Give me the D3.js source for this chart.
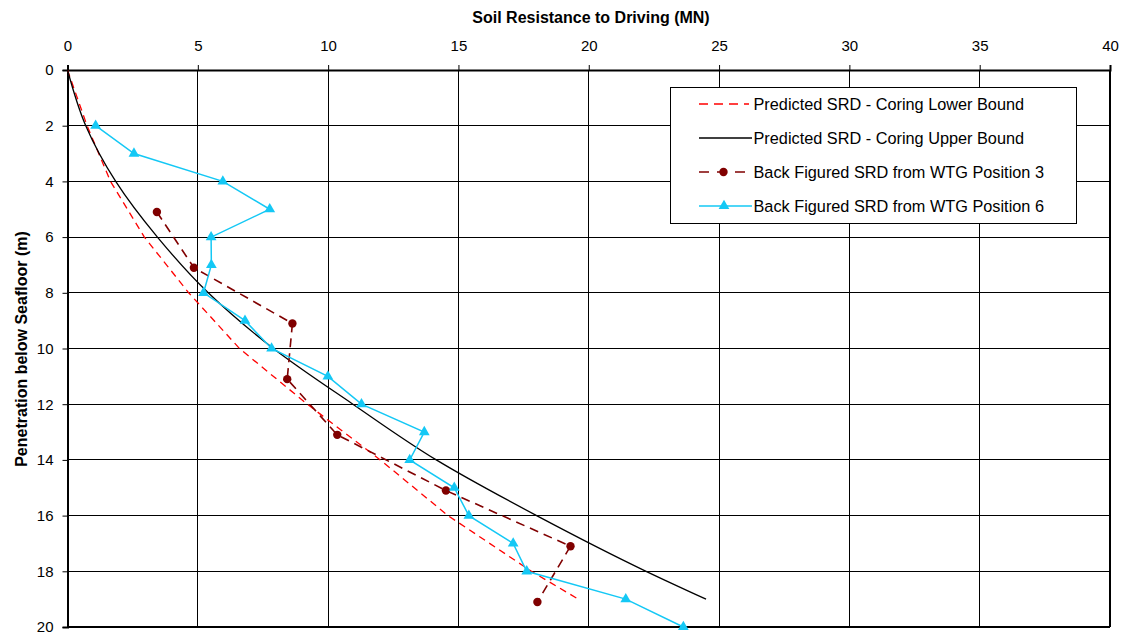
<!DOCTYPE html>
<html>
<head>
<meta charset="utf-8">
<script src="https://cdn.jsdelivr.net/npm/d3@7/dist/d3.min.js"></script>
<style>
  html, body { margin: 0; padding: 0; background: #fff; }
  svg { display: block; font-family: "Liberation Sans", Arial, sans-serif; }
</style>
</head>
<body>
<svg id="chart" width="1127" height="635"></svg>
<script>
// Predicted soil resistance to driving (MN) vs penetration depth (m)
const lowerDepth = [0, 2, 4, 6, 8, 10, 12, 14, 16, 18, 19];
const lowerSRD   = [0, 0.75, 1.65, 2.95, 4.65, 6.6, 9.2, 12.0, 14.6, 17.8, 19.6];

const upperDepth = [0, 2, 4, 6, 8, 10, 12, 14, 16, 18, 19];
const upperSRD   = [0, 0.7, 1.85, 3.45, 5.4, 7.9, 10.95, 14.15, 18.0, 22.2, 24.5];

// Back-figured SRD from pile driving records
const wtg3Depth = [5.1, 7.1, 9.1, 11.1, 13.1, 15.1, 17.1, 19.1];
const wtg3SRD   = [3.43, 4.85, 8.63, 8.43, 10.35, 14.52, 19.3, 18.03];

const wtg6Depth = [2, 3, 4, 5, 6, 7, 8, 9, 10, 11, 12, 13, 14, 15, 16, 17, 18, 19, 20];
const wtg6SRD   = [1.08, 2.55, 5.96, 7.76, 5.51, 5.52, 5.22, 6.81, 7.83, 9.99, 11.28, 13.69, 13.13, 14.84, 15.4, 17.1, 17.62, 21.42, 23.63];

const xTicks = [0, 5, 10, 15, 20, 25, 30, 35, 40];
const yTicks = [0, 2, 4, 6, 8, 10, 12, 14, 16, 18, 20];

const seriesNames = [
  "Predicted SRD - Coring Lower Bound",
  "Predicted SRD - Coring Upper Bound",
  "Back Figured SRD from WTG Position 3",
  "Back Figured SRD from WTG Position 6"
];

const svg = d3.select("#chart");
const plotL = 67.5, plotR = 1110, plotT = 70, plotB = 627;

const x = d3.scaleLinear().domain([0, 40]).range([plotL, plotR]);
const y = d3.scaleLinear().domain([0, 20]).range([plotT, plotB]);

const toPts = (xs, ys) => xs.map((v, i) => [v, ys[i]]);
const line = d3.line().x(d => x(d[0])).y(d => y(d[1]));

// grid
const grid = svg.append("g");
grid.selectAll("line.v").data(xTicks).join("line")
  .attr("x1", d => x(d)).attr("x2", d => x(d))
  .attr("y1", plotT).attr("y2", plotB)
  .attr("stroke", "#000").attr("stroke-width", 1)
  .attr("shape-rendering", "crispEdges");
grid.selectAll("line.h").data(yTicks).join("line")
  .attr("x1", plotL).attr("x2", plotR)
  .attr("y1", d => y(d)).attr("y2", d => y(d))
  .attr("stroke", "#000").attr("stroke-width", 1)
  .attr("shape-rendering", "crispEdges");

// axes
const xAxis = d3.axisTop(x).tickValues(xTicks).tickSize(5).tickPadding(14);
const gx = svg.append("g").attr("transform", `translate(0,${plotT})`).call(xAxis);
gx.select(".domain").attr("stroke-width", 2);
gx.selectAll("text").attr("font-size", 15).attr("font-family", "Liberation Sans, Arial, sans-serif").attr("fill", "#000");

const yAxis = d3.axisLeft(y).tickValues(yTicks).tickSize(5).tickPadding(9);
const gy = svg.append("g").attr("transform", `translate(${plotL},0)`).call(yAxis);
gy.select(".domain").attr("stroke-width", 2);
gy.selectAll("text").attr("font-size", 15).attr("font-family", "Liberation Sans, Arial, sans-serif").attr("fill", "#000");

// bottom and right frame
svg.append("line").attr("x1", plotL).attr("x2", plotR).attr("y1", plotB).attr("y2", plotB)
  .attr("stroke", "#000").attr("stroke-width", 2);
svg.append("line").attr("x1", plotR).attr("x2", plotR).attr("y1", plotT).attr("y2", plotB)
  .attr("stroke", "#000").attr("stroke-width", 2);

// titles
svg.append("text").attr("x", 591).attr("y", 23)
  .attr("text-anchor", "middle").attr("font-weight", "bold").attr("font-size", 16)
  .text("Soil Resistance to Driving (MN)");
svg.append("text")
  .attr("transform", `translate(27,349) rotate(-90)`)
  .attr("text-anchor", "middle").attr("font-weight", "bold").attr("font-size", 16)
  .text("Penetration below Seafloor  (m)");

// series
const plot = svg.append("g");
plot.append("path").datum(toPts(lowerSRD, lowerDepth))
  .attr("d", line).attr("fill", "none")
  .attr("stroke", "#ff0000").attr("stroke-width", 1.3).attr("stroke-dasharray", "7,5");
plot.append("path").datum(toPts(upperSRD, upperDepth))
  .attr("d", line.curve(d3.curveMonotoneY)).attr("fill", "none")
  .attr("stroke", "#000").attr("stroke-width", 1.3);
line.curve(d3.curveLinear);

const w3 = toPts(wtg3SRD, wtg3Depth);
plot.append("path").datum(w3)
  .attr("d", line).attr("fill", "none")
  .attr("stroke", "#800000").attr("stroke-width", 1.6).attr("stroke-dasharray", "9,6");
plot.selectAll("circle.w3").data(w3).join("circle")
  .attr("cx", d => x(d[0])).attr("cy", d => y(d[1])).attr("r", 4.2)
  .attr("fill", "#800000");

const w6 = toPts(wtg6SRD, wtg6Depth);
const cyan = "#14c8f5";
plot.append("path").datum(w6)
  .attr("d", line).attr("fill", "none")
  .attr("stroke", cyan).attr("stroke-width", 1.5);
const tri = d3.symbol().type(d3.symbolTriangle).size(50);
plot.selectAll("path.w6").data(w6).join("path")
  .attr("d", tri)
  .attr("transform", d => `translate(${x(d[0])},${y(d[1])})`)
  .attr("fill", cyan);

// legend
const lg = svg.append("g");
lg.append("rect").attr("x", 670.5).attr("y", 87.5).attr("width", 406).attr("height", 136)
  .attr("fill", "#fff").attr("stroke", "#000").attr("stroke-width", 1);
const rows = [104, 138, 172, 206];
const lx1 = 699, lx2 = 749;
lg.append("line").attr("x1", lx1).attr("x2", lx2).attr("y1", rows[0]).attr("y2", rows[0])
  .attr("stroke", "#ff0000").attr("stroke-width", 1.3).attr("stroke-dasharray", "9,6");
lg.append("line").attr("x1", lx1).attr("x2", lx2 + 3).attr("y1", rows[1]).attr("y2", rows[1])
  .attr("stroke", "#000").attr("stroke-width", 1.3);
lg.append("line").attr("x1", lx1).attr("x2", lx2).attr("y1", rows[2]).attr("y2", rows[2])
  .attr("stroke", "#800000").attr("stroke-width", 1.6).attr("stroke-dasharray", "10,8");
lg.append("circle").attr("cx", (lx1 + lx2) / 2 - 0.5).attr("cy", rows[2]).attr("r", 4.2).attr("fill", "#800000");
lg.append("line").attr("x1", lx1).attr("x2", lx2 + 3).attr("y1", rows[3]).attr("y2", rows[3])
  .attr("stroke", cyan).attr("stroke-width", 1.5);
lg.append("path").attr("d", tri).attr("transform", `translate(${(lx1 + lx2) / 2},${rows[3]})`).attr("fill", cyan);
lg.selectAll("text").data(seriesNames).join("text")
  .attr("x", 753.5).attr("y", (d, i) => rows[i] + 6)
  .attr("font-size", 16.3).attr("fill", "#000")
  .text(d => d);
</script>
</body>
</html>
